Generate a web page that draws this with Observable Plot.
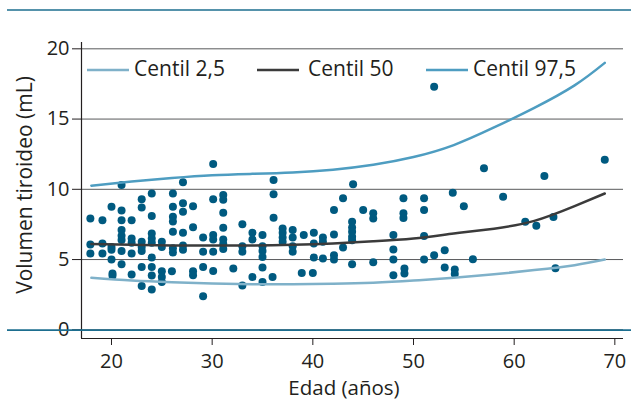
<!DOCTYPE html>
<html>
<head>
<meta charset="utf-8">
<script src="https://cdn.jsdelivr.net/npm/d3@7"></script>
<script src="https://cdn.jsdelivr.net/npm/@observablehq/plot@0.6"></script>
<style>
  html, body { margin: 0; padding: 0; background: #fff; }
  #chart { width: 631px; height: 404px; }
</style>
</head>
<body>
<div id="chart"></div>
<script>
// ---- data ----
const xTicks = [20, 30, 40, 50, 60, 70];
const yTicks = [0, 5, 10, 15, 20];
const xLabel = "Edad (años)";
const yLabel = "Volumen tiroideo (mL)";
const seriesNames = ["Centil 2,5", "Centil 50", "Centil 97,5"];

// percentile curves (knots)
const centilAges = [18, 22, 26, 30, 34, 38, 42, 46, 50, 54, 58, 62, 66, 69];
const centil025 = [3.7, 3.5, 3.38, 3.3, 3.25, 3.25, 3.28, 3.35, 3.5, 3.7, 3.95, 4.25, 4.6, 5.0];
const centil50  = [6.1, 6.05, 6.0, 6.0, 6.0, 6.05, 6.15, 6.3, 6.5, 6.85, 7.2, 7.75, 8.8, 9.7];
const centil975 = [10.26, 10.55, 10.8, 11.0, 11.1, 11.2, 11.4, 11.75, 12.3, 13.15, 14.4, 15.8, 17.4, 19.0];

// individual observations
const obsAge = [
  17.9, 17.9, 17.9,
  19.1, 19.1, 19.1,
  20.0, 20.0, 20.0, 20.0, 20.1, 20.1,
  21.0, 21.0, 21.0, 21.0, 21.0, 21.0, 21.0, 21.0,
  22.0, 22.0, 22.0, 22.0, 22.0,
  23.0, 23.0, 23.0, 23.0, 23.0, 23.0, 23.0,
  24.0, 24.0, 24.0, 24.0, 24.0, 24.0, 24.0, 24.0, 24.0,
  25.0, 25.0, 25.0, 25.0, 25.0,
  26.1, 26.1, 26.1, 26.1, 26.1, 26.1, 26.1, 26.0,
  27.1, 27.1, 27.1, 27.1, 27.1, 27.1,
  28.1, 28.1, 28.1, 28.1,
  29.1, 29.1, 29.1, 29.1,
  30.1, 30.1, 30.1, 30.1, 30.1, 30.1,
  31.1, 31.1, 31.1, 31.1, 31.1, 31.1, 31.1,
  32.1,
  33.0, 33.0, 33.0, 33.0,
  34.0, 34.0, 34.0,
  35.0, 35.0, 35.0, 35.0, 35.0, 35.0,
  36.1, 36.1, 36.1, 36.0,
  37.0, 37.0, 37.0, 37.0,
  38.0, 38.0, 38.0, 38.0,
  38.9, 39.1, 40.0,
  40.1, 40.1, 40.1,
  41.0, 41.0, 41.0,
  42.1, 42.1, 42.1, 42.1,
  43.0, 43.0,
  44.0, 43.9, 43.9, 43.9, 43.9, 43.9, 43.9,
  45.0,
  46.0, 46.0, 46.0,
  48.0, 48.0, 48.0, 48.0,
  49.0, 49.0, 49.0, 49.1, 49.1,
  51.05, 51.05, 51.05, 51.05,
  52.05, 52.05,
  53.1, 53.1,
  53.9, 55.0, 54.1, 54.1, 55.9, 57.0, 58.9, 61.1, 62.2, 63.0, 63.9, 64.1, 69.0
];
const obsVol = [
  7.93, 6.07, 5.43,
  7.8, 6.14, 5.43,
  8.76, 5.9, 5.7, 5.0, 4.0, 3.85,
  10.3, 8.5, 7.8, 7.1, 6.7, 6.4, 5.6, 4.66,
  7.8, 6.5, 6.2, 5.43, 3.93,
  9.3, 8.7, 6.26, 5.9, 5.6, 4.47, 3.11,
  9.7, 8.1, 6.86, 6.5, 6.2, 5.14, 4.47, 3.86, 2.86,
  6.26, 5.9, 4.16, 3.75, 3.4,
  9.7, 8.76, 8.05, 7.7, 6.97, 5.8, 5.5, 4.16,
  10.5, 9.0, 8.4, 6.9, 6.0, 5.7,
  8.8, 7.3, 4.16, 3.88,
  6.57, 5.55, 4.47, 2.38,
  11.8, 9.29, 6.74, 6.43, 5.55, 4.19,
  9.6, 9.25, 8.33, 7.26, 6.43, 6.1, 5.75,
  4.36,
  7.52, 5.95, 5.55, 3.16,
  6.9, 6.43, 3.76,
  6.74, 5.95, 5.6, 5.19, 4.43, 3.4,
  10.66, 9.64, 7.97, 3.76,
  7.21, 6.9, 6.57, 6.26,
  7.1, 6.57, 5.95, 5.55,
  4.04, 6.74, 4.04,
  6.9, 6.14, 5.14,
  6.57, 6.26, 5.07,
  8.52, 6.79, 5.31, 5.0,
  9.36, 5.86,
  10.36, 7.69, 7.29, 6.97, 6.62, 6.38, 4.66,
  8.52,
  8.29, 7.93, 4.8,
  6.74, 5.71, 5.0, 3.88,
  9.36, 8.29, 7.95, 4.36, 4.0,
  9.36, 8.52, 6.67, 5.0,
  5.31, 17.3,
  5.66, 4.43,
  9.76, 8.8, 4.29, 3.97, 5.02, 11.5, 9.47, 7.69, 7.4, 10.95, 8.02, 4.38, 12.1
];

// ---- build tables ----
const points = obsAge.map((a, i) => ({age: a, vol: obsVol[i]}));
const curve = vals => centilAges.map((a, i) => ({age: a, vol: vals[i]}));

const xDomain = [17.02, 70.86];
const yDomain = [-0.62, 20.45];
const FONT = "'Open Sans', 'DejaVu Sans', sans-serif";
const TEXT = "#231f20";
const DOT = "#005a80";
const C025 = "#7fb1c9";
const C50 = "#3b3b3b";
const C975 = "#4e9dc1";
const TEAL = "#1d6e8f";

const chart = Plot.plot({
  width: 631,
  height: 404,
  marginTop: 42,
  marginRight: 8,
  marginBottom: 66,
  marginLeft: 81,
  style: {fontFamily: FONT, fontSize: "20px", color: TEXT, background: "#fff"},
  x: {domain: xDomain},
  y: {domain: yDomain},
  marks: [
    Plot.gridY(yTicks, {stroke: "#58595b", strokeOpacity: 1, strokeWidth: 1}),
    Plot.ruleX([xDomain[0]], {stroke: TEXT, strokeWidth: 1.2}),
    Plot.ruleY([yDomain[0]], {stroke: TEXT, strokeWidth: 1.2}),
    Plot.axisY(yTicks, {tickSize: 9, tickPadding: 3, fontSize: 20, label: null, stroke: TEXT, fill: TEXT}),
    Plot.axisX(xTicks, {tickSize: 7, tickPadding: 8, fontSize: 20, label: null, stroke: TEXT, fill: TEXT}),
    Plot.dot(points, {x: "age", y: "vol", r: 4, fill: DOT, stroke: "none"}),
    Plot.line(curve(centil025), {x: "age", y: "vol", stroke: C025, strokeWidth: 2.5, curve: "natural"}),
    Plot.line(curve(centil50), {x: "age", y: "vol", stroke: C50, strokeWidth: 2.5, curve: "natural"}),
    Plot.line(curve(centil975), {x: "age", y: "vol", stroke: C975, strokeWidth: 2.5, curve: "natural"})
  ]
});
document.getElementById("chart").appendChild(chart);

// ---- decorations, axis titles and legend ----
const svg = d3.select(chart);
const ys = chart.scale("y");
const y0 = ys.apply(0);

svg.append("line").attr("x1", 7).attr("x2", 631).attr("y1", 10).attr("y2", 10)
  .attr("stroke", TEAL).attr("stroke-width", 1.6);
svg.append("line").attr("x1", 7).attr("x2", 631).attr("y1", y0 + 0.8).attr("y2", y0 + 0.8)
  .attr("stroke", TEAL).attr("stroke-width", 1.6);

svg.append("text").text(xLabel)
  .attr("x", 344).attr("y", 395)
  .attr("text-anchor", "middle")
  .attr("font-family", FONT).attr("font-size", 20.5).attr("fill", TEXT);

svg.append("text").text(yLabel)
  .attr("transform", "translate(25,185) rotate(-90)")
  .attr("text-anchor", "middle").attr("dy", "0.35em")
  .attr("font-family", FONT).attr("font-size", 21).attr("fill", TEXT);

const legendItems = [
  {name: seriesNames[0], color: C025, x0: 87, x1: 129, tx: 134},
  {name: seriesNames[1], color: C50, x0: 257, x1: 299, tx: 308},
  {name: seriesNames[2], color: C975, x0: 426, x1: 468, tx: 473}
];
const lg = svg.append("g").attr("text-anchor", "start");
legendItems.forEach(d => {
  lg.append("line").attr("x1", d.x0).attr("x2", d.x1).attr("y1", 70).attr("y2", 70)
    .attr("stroke", d.color).attr("stroke-width", 2.5);
  lg.append("text").text(d.name).attr("x", d.tx).attr("y", 69).attr("dy", "0.35em")
    .attr("text-anchor", "start")
    .attr("font-family", FONT).attr("font-size", 21).attr("fill", TEXT);
});
</script>
</body>
</html>
